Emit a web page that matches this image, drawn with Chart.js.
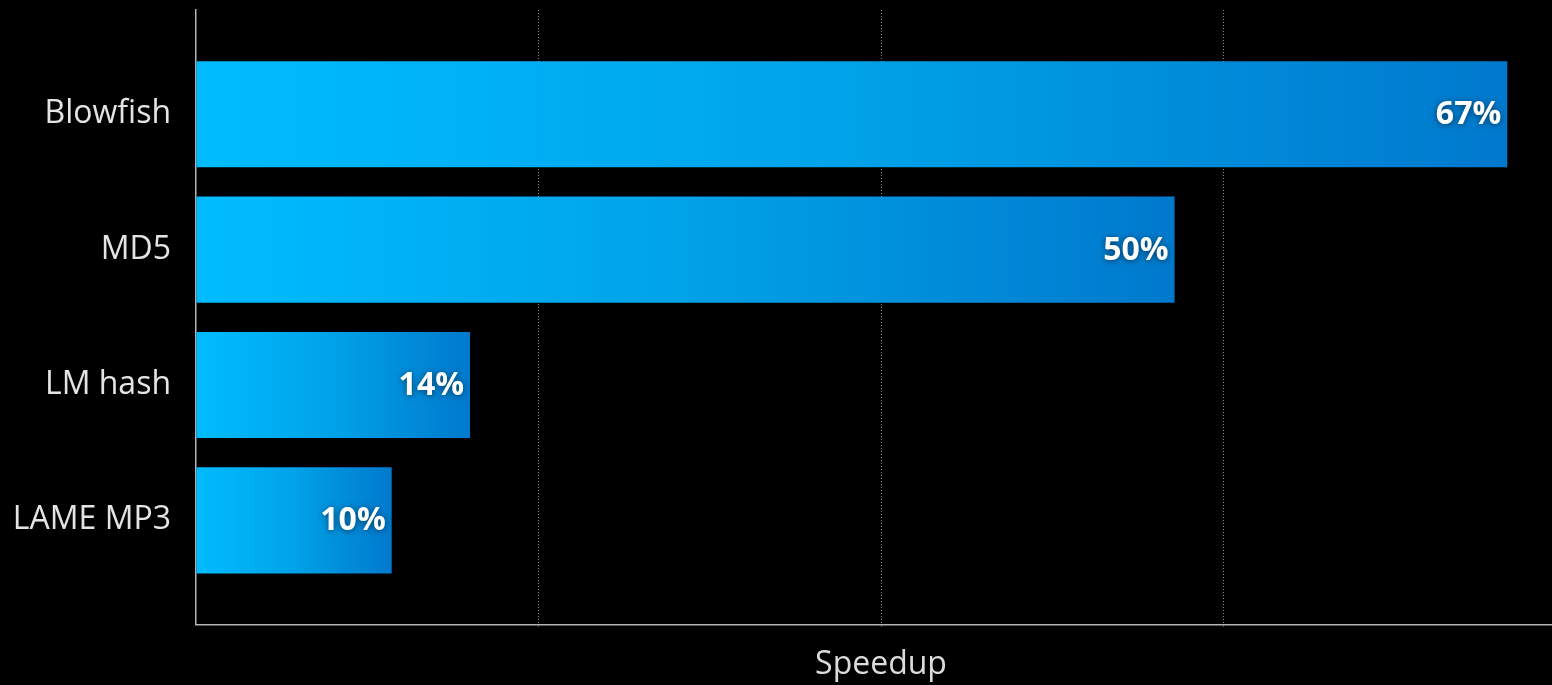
<!DOCTYPE html>
<html>
<head>
<meta charset="utf-8">
<script src="https://cdn.jsdelivr.net/npm/chart.js@4/dist/chart.umd.min.js"></script>
<style>
  html, body { margin: 0; padding: 0; background: #000; overflow: hidden; }
  #wrap { position: relative; width: 1566px; height: 685px; }
</style>
</head>
<body>
<div id="wrap"><canvas id="speedChart"></canvas></div>
<script>
const benchmarks = ["Blowfish", "MD5", "LM hash", "LAME MP3"];
const speedups = [67, 50, 14, 10];
const gridValues = [0, 17.5, 35, 52.5, 70];

// each bar gets its own gradient, light cyan at the axis to deep blue at its end
function barGradient(context) {
  const chart = context.chart;
  const xScale = chart.scales.x;
  if (!chart.chartArea || !xScale || !context.parsed) return "#00a8f0";
  const x0 = xScale.getPixelForValue(0);
  const x1 = xScale.getPixelForValue(context.parsed.x);
  const g = chart.ctx.createLinearGradient(x0, 0, x1, 0);
  g.addColorStop(0, "#00bcff");
  g.addColorStop(0.5, "#00a2e8");
  g.addColorStop(1, "#0079cd");
  return g;
}

// percentage text inside the right end of each bar
const valueLabels = {
  id: "valueLabels",
  afterDatasetsDraw(chart) {
    const ctx = chart.ctx;
    const meta = chart.getDatasetMeta(0);
    ctx.save();
    ctx.font = "bold 32px 'Open Sans'";
    ctx.fillStyle = "#ffffff";
    ctx.textAlign = "right";
    ctx.textBaseline = "middle";
    ctx.shadowColor = "rgba(0, 0, 0, 0.55)";
    ctx.shadowBlur = 6;
    ctx.shadowOffsetY = 1;
    meta.data.forEach((bar, i) => {
      ctx.fillText(speedups[i] + "%", bar.x - 6, bar.y + 1);
    });
    ctx.restore();
  }
};

const ctx = document.getElementById("speedChart").getContext("2d");
const chart = new Chart(ctx, {
  type: "bar",
  data: {
    datasets: [
      {
        data: speedups.map((v, i) => ({ x: v, y: i })),
        backgroundColor: barGradient,
        borderWidth: 0,
        barPercentage: 0.784,
        categoryPercentage: 1
      }
    ]
  },
  plugins: [valueLabels],
  options: {
    indexAxis: "y",
    responsive: true,
    maintainAspectRatio: false,
    animation: false,
    layout: { padding: { top: 10, right: 0, bottom: 0, left: 0 } },
    plugins: {
      legend: { display: false },
      tooltip: { enabled: false }
    },
    scales: {
      x: {
        type: "linear",
        min: 0,
        max: 70,
        afterBuildTicks: (scale) => {
          scale.ticks = gridValues.map((v) => ({ value: v }));
        },
        ticks: { display: false },
        grid: {
          color: (c) => (c.tick && c.tick.value === 0 ? "rgba(0,0,0,0)" : "#8a8a8a"),
          lineWidth: 1,
          tickLength: 3,
          tickBorderDash: [1, 2]
        },
        // the dash here applies to the vertical grid lines
        border: { display: true, color: "#b4b4b4", width: 1.5, dash: [1, 2] },
        title: {
          display: true,
          text: "Speedup",
          color: "#dcdcdc",
          font: { family: "'Open Sans'", size: 32, weight: 500 },
          padding: { top: 18, bottom: 1 }
        }
      },
      y: {
        type: "linear",
        reverse: true,
        offset: false,
        min: -0.77,
        max: 3.77,
        afterBuildTicks: (scale) => {
          scale.ticks = benchmarks.map((_, i) => ({ value: i }));
        },
        afterFit: (scale) => {
          scale.width = 196;
          scale.paddingTop = 0;
          scale.paddingBottom = 0;
        },
        ticks: {
          color: "#e4e4e4",
          font: { family: "'Open Sans'", size: 32, weight: 500 },
          padding: 25,
          callback: (value) => benchmarks[value] || ""
        },
        grid: { display: false, drawTicks: false, offset: false },
        border: { display: true, color: "#b4b4b4", width: 1.5 }
      }
    }
  }
});
</script>
</body>
</html>
